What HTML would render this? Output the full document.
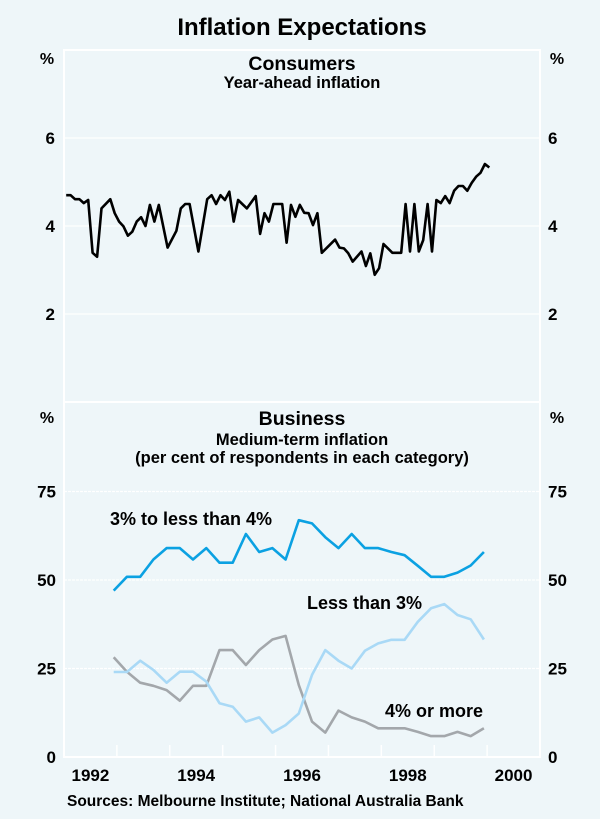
<!DOCTYPE html>
<html><head><meta charset="utf-8"><style>
html,body{margin:0;padding:0;background:#eef6f9;}
svg{display:block;font-family:"Liberation Sans",Arial,sans-serif;}
</style></head><body>
<svg id="chart" width="600" height="819" viewBox="0 0 600 819" xmlns="http://www.w3.org/2000/svg">
<rect x="0" y="0" width="600" height="819" fill="#eef6f9"/>
<text x="302" y="35" text-anchor="middle" font-size="24" font-weight="bold" fill="#000">Inflation Expectations</text>
<g id="frame"></g>
<text x="302" y="70" text-anchor="middle" font-size="19.5" font-weight="bold">Consumers</text>
<text x="302" y="88" text-anchor="middle" font-size="16.5" font-weight="bold">Year-ahead inflation</text>
<text x="302" y="425" text-anchor="middle" font-size="19.5" font-weight="bold">Business</text>
<text x="302" y="445" text-anchor="middle" font-size="16.5" font-weight="bold">Medium-term inflation</text>
<text x="302" y="463" text-anchor="middle" font-size="16.5" font-weight="bold">(per cent of respondents in each category)</text>
<text x="47" y="64" text-anchor="middle" font-size="16" font-weight="bold">%</text>
<text x="557" y="64" text-anchor="middle" font-size="16" font-weight="bold">%</text>
<text x="47" y="423" text-anchor="middle" font-size="16" font-weight="bold">%</text>
<text x="557" y="423" text-anchor="middle" font-size="16" font-weight="bold">%</text>
<g id="marks"></g>
<text x="110" y="525" font-size="18" font-weight="bold">3% to less than 4%</text>
<text x="307" y="609" font-size="18" font-weight="bold">Less than 3%</text>
<text x="385" y="717" font-size="18" font-weight="bold">4% or more</text>
<text x="67" y="806" font-size="15.5" font-weight="bold">Sources:  Melbourne Institute; National Australia Bank</text>
</svg>
<script>
const consumerMonths = [0,1,2,3,4,5,6,7,8,10,11,12,13,14,15,16,17,18,19,20,21,23,25,26,27,28,30,32,33,34,35,36,37,38,39,41,43,44,45,46,47,49,50,51,52,53,54,55,56,57,58,61,62,63,64,65,67,68,69,70,71,72,74,76,77,78,79,80,81,82,83,84,85,86,87,88,89,90,91,92,93,94,95,96];
const consumerValues = [4.70,4.70,4.61,4.61,4.52,4.59,3.39,3.30,4.40,4.61,4.29,4.10,3.99,3.78,3.87,4.10,4.20,4.00,4.48,4.10,4.48,3.51,3.89,4.40,4.50,4.50,3.42,4.61,4.70,4.50,4.70,4.59,4.78,4.10,4.59,4.40,4.68,3.82,4.29,4.10,4.50,4.50,3.62,4.48,4.21,4.48,4.30,4.29,4.02,4.29,3.39,3.69,3.51,3.49,3.38,3.19,3.42,3.09,3.38,2.89,3.04,3.59,3.39,3.39,4.50,3.42,4.50,3.42,3.68,4.50,3.42,4.59,4.52,4.68,4.52,4.80,4.91,4.91,4.80,4.98,5.12,5.21,5.41,5.33];
const businessStart = 1992.94;
const mid3to4 = [47.0,50.9,50.9,55.8,59.0,59.0,55.8,59.0,54.9,54.9,63.0,57.9,59.0,55.8,66.9,66.0,62.1,59.0,63.0,59.0,59.0,57.9,57.0,54.0,50.9,50.9,52.1,54.1,57.9];
const lessThan3 = [24.0,24.0,27.2,24.6,21.0,24.1,24.1,21.3,15.2,14.2,10.0,11.2,6.9,9.0,12.3,23.2,30.2,27.2,25.0,30.0,32.1,33.1,33.1,38.2,42.0,43.2,40.1,38.9,33.2];
const fourOrMore = [28.2,24.1,21.0,20.1,18.9,15.9,20.1,20.1,30.2,30.2,26.0,30.2,33.2,34.2,20.3,10.0,6.9,13.1,11.2,10.0,8.1,8.1,8.1,7.1,5.9,5.9,7.1,5.9,8.1];
const topTicks = [2,4,6];
const bottomTicks = [0,25,50,75];
const yearLabels = [1992,1994,1996,1998,2000];
const yearTicks = [1993,1994,1995,1996,1997,1998,1999,2000];

const NS="http://www.w3.org/2000/svg";
const X0=64,X1=540,T0=1992,T1=2001;
const xs=t=>X0+(t-T0)*(X1-X0)/(T1-T0);
const yTop=v=>402-v*44;
const yBot=v=>757-v*(757-403)/100;
const marks=document.getElementById('marks');
const frame=document.getElementById('frame');
function mk(tag,attrs,parent){const e=document.createElementNS(NS,tag);for(const k in attrs)e.setAttribute(k,attrs[k]);parent.appendChild(e);return e;}

let e;
e=mk('rect',{x:X0,y:50,width:X1-X0,height:707,fill:'none',stroke:'#fff','stroke-width':2},frame);


e=mk('line',{x1:X0,x2:X1,y1:402,y2:402,stroke:'#fff','stroke-width':2},frame);


topTicks.forEach(v=>{
  const y=yTop(v);
  e=mk('line',{x1:X0,x2:X1,y1:y,y2:y,stroke:'#fff','stroke-width':1.2},frame);
  
  
  e=mk('text',{x:55,y:y+6,'text-anchor':'end','font-size':17,'font-weight':'bold'},frame);e.textContent=v;
  
  
  e=mk('text',{x:548,y:y+6,'font-size':17,'font-weight':'bold'},frame);e.textContent=v;
  
  
});
bottomTicks.forEach(v=>{
  const y=yBot(v);
  if(v>0){e=mk('line',{x1:X0,x2:X1,y1:y,y2:y,stroke:'#fff','stroke-width':1.2,'stroke-dasharray':'3,1'},frame);
  
  }
  e=mk('text',{x:56,y:y+6,'text-anchor':'end','font-size':17,'font-weight':'bold'},frame);e.textContent=v;
  
  
  e=mk('text',{x:548,y:y+6,'font-size':17,'font-weight':'bold'},frame);e.textContent=v;
  
  
});
yearTicks.forEach(t=>{
  const x=xs(t);
  e=mk('line',{x1:x,x2:x,y1:745,y2:757,stroke:'#fff','stroke-width':1.5},frame);
  
  
});
yearLabels.forEach(t=>{
  e=mk('text',{x:xs(t+0.5),y:781,'text-anchor':'middle','font-size':17,'font-weight':'bold'},frame);e.textContent=t;
  
  
});

function line(pts,color,w,name){
  const p=mk('polyline',{points:pts.map(q=>q[0].toFixed(1)+','+q[1].toFixed(1)).join(' '),fill:'none',stroke:color,'stroke-width':w,'stroke-linejoin':'round'},marks);
  
  
}
line(consumerValues.map((v,i)=>[xs(T0+(consumerMonths[i]+0.5)/12),yTop(v)]),'#000',2.6,'consumers-line');
const bx=i=>xs(businessStart+0.25*i);
line(fourOrMore.map((v,i)=>[bx(i),yBot(v)]),'#a3a7ab',2.6,'four-or-more-line');
line(lessThan3.map((v,i)=>[bx(i),yBot(v)]),'#a9d9f6',2.6,'less-than-3-line');
line(mid3to4.map((v,i)=>[bx(i),yBot(v)]),'#0ba1e2',2.6,'three-to-four-line');
</script>
</body></html>
